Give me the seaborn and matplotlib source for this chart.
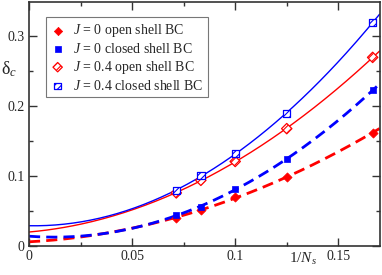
import numpy as np
import pandas as pd
import matplotlib
matplotlib.use('Agg')
import matplotlib.pyplot as plt
import seaborn as sns

# 1/Ns values (Ns = 14, 12, 10, 8, 6)
inv_ns = [1/14, 1/12, 1/10, 1/8, 1/6]

# delta_c
j0_open = [0.040, 0.051, 0.070, 0.099, 0.162]
j0_closed = [0.044, 0.056, 0.082, 0.124, 0.223]
j04_open = [0.076, 0.094, 0.121, 0.168, 0.270]
j04_closed = [0.079, 0.101, 0.132, 0.190, 0.320]

# extrapolated values at 1/Ns = 0
intercepts = [0.006, 0.014, 0.020, 0.029]

labels = [r'$J$ = 0 open shell BC', r'$J$ = 0 closed shell BC',
          r'$J$ = 0.4 open shell BC', r'$J$ = 0.4 closed shell BC']

sns.set_style('ticks')
plt.rcParams['font.family'] = ['Liberation Serif', 'DejaVu Serif']
plt.rcParams['mathtext.fontset'] = 'custom'
plt.rcParams['mathtext.rm'] = 'Liberation Serif'
plt.rcParams['mathtext.it'] = 'Liberation Serif:italic'
plt.rcParams['hatch.linewidth'] = 0.8

fig = plt.figure(figsize=(3.82, 2.75), dpi=100)
ax = fig.add_axes([0.076, 0.1055, 0.9175, 0.889])

series = [
    (j0_open, '#ff0000', 'D', True, '--', 2.0),
    (j0_closed, '#0000ff', 's', True, '--', 2.0),
    (j04_open, '#ff0000', 'D', False, '-', 1.0),
    (j04_closed, '#0000ff', 's', False, '-', 1.0),
]

# quadratic fit curves through the points and the extrapolated value
xfit = np.linspace(0, 0.17, 200)
for (vals, col, mk, filled, ls, lw), c0 in zip(series, intercepts):
    xs = [0.0] + inv_ns
    ys = [c0] + vals
    w = [10.0] + [1.0] * len(vals)
    coef = np.polyfit(xs, ys, 2, w=w)
    fit = pd.DataFrame({'x': xfit, 'y': np.polyval(coef, xfit)})
    sns.lineplot(data=fit, x='x', y='y', color=col, linestyle=ls, linewidth=lw,
                 ax=ax, legend=False)
    if ls == '--':
        ax.lines[-1].set_dashes([4, 2.2])

for (vals, col, mk, filled, ls, lw), lab in zip(series, labels):
    pts = pd.DataFrame({'x': inv_ns, 'y': vals})
    if filled:
        sns.scatterplot(data=pts, x='x', y='y', marker=mk, color=col, edgecolor=col,
                        linewidth=0.5, s=22, ax=ax, label=lab, zorder=3)
    else:
        sns.scatterplot(data=pts, x='x', y='y', marker=mk, facecolor='white',
                        edgecolor=col, hatch='/////', linewidth=0.9, s=28,
                        ax=ax, label=lab, zorder=3)

ax.set_xlim(0, 0.17)
ax.set_ylim(0, 0.35)
ax.set_xticks([0, 0.05, 0.1, 0.15])
ax.set_xticklabels(['0', '0.05', '0.1', '0.15'])
ax.set_yticks([0, 0.1, 0.2, 0.3])
ax.set_yticklabels(['0', '0.1', '0.2', '0.3'])
ax.set_xticks(np.arange(0.025, 0.17, 0.05), minor=True)
ax.set_yticks(np.arange(0.05, 0.35, 0.1), minor=True)
ax.tick_params(which='both', direction='in', top=True, right=True, labelsize=10,
               width=1.0, color='#333333', pad=3)
ax.tick_params(which='major', length=6)
ax.tick_params(which='minor', length=3)
for sp in ax.spines.values():
    sp.set_linewidth(1.2)
    sp.set_color('#333333')

ax.set_xlabel('')
ax.set_ylabel('')
fig.text(303 / 382, 1 - 259 / 275, r'1/$N_s$', fontsize=11, ha='center', va='center')
fig.text(9 / 382, 1 - 69 / 275, r'δ$_c$', fontsize=13, ha='center', va='center')

leg = ax.legend(loc='upper left', bbox_to_anchor=(0.048, 0.935), borderaxespad=0,
                fontsize=10, frameon=True, fancybox=False, edgecolor='#555555',
                handlelength=1.0, handletextpad=0.6, labelspacing=0.2,
                borderpad=0.35, markerscale=0.9)
leg.get_frame().set_linewidth(0.8)

fig.savefig('out.png', dpi=100)
